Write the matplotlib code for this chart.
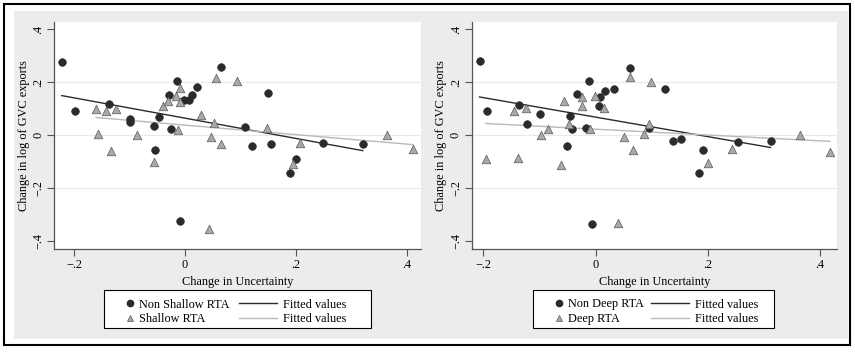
import numpy as np
import matplotlib.pyplot as plt
from matplotlib.patches import Rectangle
from matplotlib.lines import Line2D

plt.rcParams['font.family'] = ['Liberation Serif', 'DejaVu Serif']
plt.rcParams['font.size'] = 8.8

# left panel: shallow agreements
x_non_shallow = [-0.222, -0.199, -0.137, -0.099, -0.099, -0.055, -0.054, -0.047, -0.026, -0.028,
                 -0.015, -0.009, -0.002, 0.007, 0.012, 0.021, 0.065, 0.108, 0.121, 0.149,
                 0.155, 0.189, 0.199, 0.249, 0.320]
y_non_shallow = [0.275, 0.091, 0.116, 0.061, 0.049, 0.035, -0.058, 0.068, 0.023, 0.153,
                 0.205, -0.326, 0.133, 0.133, 0.153, 0.183, 0.259, 0.030, -0.040, 0.160,
                 -0.034, -0.144, -0.091, -0.029, -0.033]
x_shallow = [-0.160, -0.156, -0.142, -0.134, -0.124, -0.087, -0.056, -0.039, -0.031, -0.016,
             -0.012, -0.009, -0.009, 0.028, 0.043, 0.047, 0.052, 0.055, 0.065, 0.094,
             0.147, 0.194, 0.207, 0.363, 0.411]
y_shallow = [0.097, 0.006, 0.093, -0.061, 0.098, 0.000, -0.102, 0.112, 0.128, 0.148,
             0.019, 0.177, 0.125, 0.076, -0.355, -0.009, 0.044, 0.216, -0.035, 0.205,
             0.025, -0.111, -0.028, -0.001, -0.054]

# right panel: deep agreements
x_non_deep = [-0.207, -0.193, -0.136, -0.122, -0.100, -0.051, -0.045, -0.043, -0.034, -0.018,
              -0.012, -0.007, 0.006, 0.007, 0.016, 0.032, 0.062, 0.095, 0.124, 0.138,
              0.153, 0.184, 0.191, 0.254, 0.312]
y_non_deep = [0.280, 0.093, 0.114, 0.043, 0.078, -0.040, 0.071, 0.023, 0.154, 0.025,
              0.205, -0.336, 0.111, 0.145, 0.167, 0.176, 0.255, 0.028, 0.176, -0.024,
              -0.015, -0.145, -0.057, -0.027, -0.023]
x_deep = [-0.196, -0.146, -0.138, -0.124, -0.098, -0.085, -0.062, -0.056, -0.047, -0.024,
          -0.024, -0.010, -0.001, 0.015, 0.040, 0.050, 0.062, 0.066, 0.087, 0.095,
          0.098, 0.201, 0.244, 0.364, 0.418]
y_deep = [-0.092, 0.093, -0.087, 0.104, -0.001, 0.023, -0.115, 0.129, 0.042, 0.143,
          0.112, 0.024, 0.149, 0.104, -0.332, -0.006, 0.221, -0.056, 0.004, 0.043,
          0.202, -0.106, -0.054, -0.001, -0.064]

yticks = [-0.4, -0.2, 0, 0.2, 0.4]
ytick_labels = ['\u2212.4', '\u2212.2', '0', '.2', '.4']
xticks = [-0.2, 0, 0.2, 0.4]
xtick_labels = ['\u2212.2', '0', '.2', '.4']

W, H = 855, 355
fig = plt.figure(figsize=(8.55, 3.55), dpi=100)
fig.patches.append(Rectangle((4 / W, 10 / H), 846 / W, 341 / H, transform=fig.transFigure,
                             facecolor='white', edgecolor='black', linewidth=1.5, zorder=-3))
fig.patches.append(Rectangle((14 / W, 16 / H), 834 / W, 328 / H, transform=fig.transFigure,
                             facecolor='#ececec', edgecolor='none', zorder=-2))

dark = '#2b2b2b'
light = '#b9b9b9'
tri_face = '#a9a9a9'
tri_edge = '#5a5a5a'


def panel(px, xa, ya, xb, yb, name_a, name_b, xlim, box):
    # px = (left, right) of the plot area in pixels
    ax = fig.add_axes([px[0] / W, 106 / H, (px[1] - px[0]) / W, 227 / H])
    ax.set_facecolor('white')
    for y in [-0.2, 0, 0.2]:
        ax.axhline(y, color='#e9e9e9', linewidth=0.8, zorder=0)
    ax.scatter(xa, ya, s=30, marker='o', color=dark, edgecolors=dark, linewidths=0.5, zorder=3)
    ax.scatter(xb, yb, s=38, marker='^', color=tri_face, edgecolors=tri_edge, linewidths=0.5, zorder=3)
    # fitted values
    for xs, ys, c in [(xa, ya, dark), (xb, yb, light)]:
        b, a = np.polyfit(xs, ys, 1)
        xx = np.array([min(xs), max(xs)])
        ax.plot(xx, a + b * xx, color=c, linewidth=1.0, zorder=2)
    ax.set_xlim(xlim)
    ax.set_ylim(-0.431, 0.428)
    ax.set_xticks(xticks)
    ax.set_xticklabels(xtick_labels)
    ax.set_yticks(yticks)
    ax.set_yticklabels(ytick_labels, rotation=90, va='center')
    for s in ['top', 'right']:
        ax.spines[s].set_visible(False)
    for s in ['left', 'bottom']:
        ax.spines[s].set_color('#555555')
        ax.spines[s].set_linewidth(0.9)
    ax.tick_params(length=5, width=0.8, color='#555555', pad=2)
    ax.set_xlabel('Change in Uncertainty', labelpad=4)
    ax.set_ylabel('Change in log of GVC exports', labelpad=2)

    # legend: markers in one column, fitted lines in the other, one frame round both
    bx0, bx1, col2 = box
    top = 1 - 298.5 / H
    pts = [Line2D([], [], marker='o', linestyle='none', color=dark, markersize=4.5),
           Line2D([], [], marker='^', linestyle='none', color=tri_face, markeredgecolor=tri_edge,
                  markeredgewidth=0.5, markersize=5)]
    lines = [Line2D([], [], color=dark, linewidth=1.0),
             Line2D([], [], color=light, linewidth=1.0)]
    common = dict(loc='upper left', bbox_transform=fig.transFigure, frameon=False, borderpad=0,
                  borderaxespad=0, labelspacing=0.2, numpoints=1)
    fig.legend(pts, [name_a, name_b], bbox_to_anchor=((bx0 + 20) / W, top),
               handlelength=1.0, handletextpad=0.25, **common)
    fig.legend(lines, ['Fitted values', 'Fitted values'], bbox_to_anchor=(col2 / W, top),
               handlelength=3.1, handletextpad=0.5, **common)
    fig.patches.append(Rectangle((bx0 / W, 1 - 328 / H), (bx1 - bx0) / W, 38 / H,
                                 transform=fig.transFigure, facecolor='white',
                                 edgecolor='black', linewidth=0.8, zorder=-1))
    return ax


panel((54, 421), x_non_shallow, y_non_shallow, x_shallow, y_shallow,
      'Non Shallow RTA', 'Shallow RTA', (-0.236, 0.425), (104, 371, 239))
panel((471.7, 836.7), x_non_deep, y_non_deep, x_deep, y_deep,
      'Non Deep RTA', 'Deep RTA', (-0.221, 0.43), (533, 774, 651))

fig.savefig('out.png', dpi=100)
